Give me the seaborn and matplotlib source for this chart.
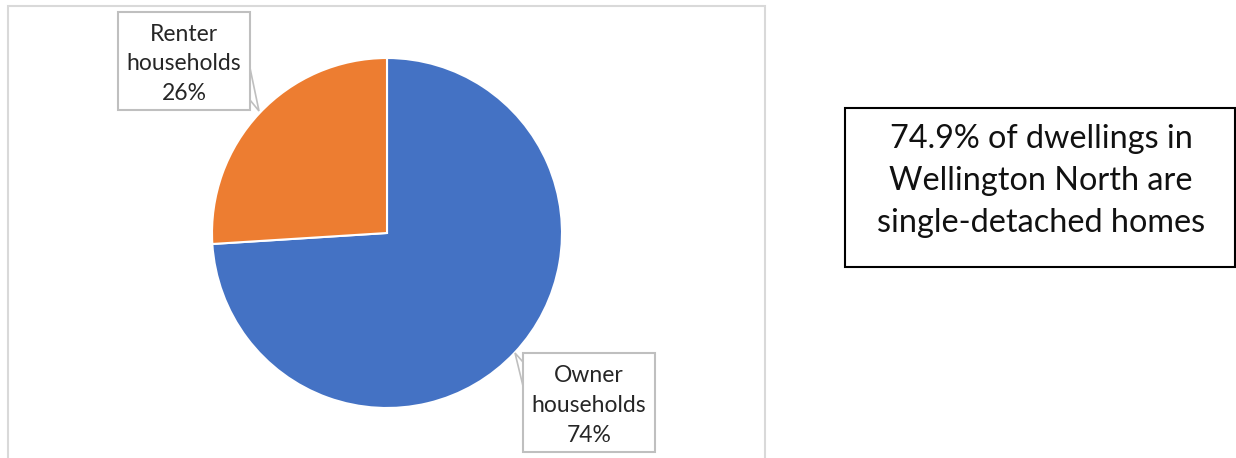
import matplotlib
matplotlib.use("Agg")
import matplotlib.pyplot as plt
from matplotlib.patches import Rectangle, Polygon
import seaborn as sns

# Household tenure shares
tenure_labels = ["Owner\nhouseholds", "Renter\nhouseholds"]
tenure_shares = [74, 26]
tenure_colors = ["#4472C4", "#ED7D31"]

callout_text = "74.9% of dwellings in\nWellington North are\nsingle-detached homes"

sns.set_theme(style="white")
plt.rcParams["font.family"] = ["Lato", "DejaVu Sans"]

W, H = 1236, 458
fig = plt.figure(figsize=(W / 100, H / 100), dpi=100)
ax = fig.add_axes([0, 0, 1, 1])


def Y(y):
    """Top-down pixel row to axis y."""
    return H - y


palette = sns.color_palette(tenure_colors)
ax.pie(tenure_shares, colors=palette, startangle=90, counterclock=False,
       center=(387, Y(233)), radius=175,
       wedgeprops=dict(edgecolor="white", linewidth=1.5))
ax.set_xlim(0, W)
ax.set_ylim(0, H)
ax.set_aspect("auto")
ax.axis("off")

# chart area frame (open at the bottom)
frame_c = "#D9D9D9"
ax.plot([7.5, 7.5, 765, 765], [Y(458), Y(5.5), Y(5.5), Y(458)],
        color=frame_c, lw=1.5, solid_joinstyle="miter")

# data callouts
box_c = "#BFBFBF"
callouts = [
    # (label index, box x0, y0, x1, y1, pointer polygon)
    (1, 118, 12, 250, 110, [(250, 68), (259, 111), (250, 100)]),
    (0, 523, 353, 655, 452, [(523, 386), (515, 353), (523, 362)]),
]
for idx, x0, y0, x1, y1, ptr in callouts:
    ax.add_patch(Polygon([(px, Y(py)) for px, py in ptr], closed=False,
                         facecolor="white", edgecolor=box_c, lw=1.2, zorder=3))
    ax.add_patch(Rectangle((x0, Y(y1)), x1 - x0, y1 - y0, facecolor="white",
                           edgecolor=box_c, lw=1.5, zorder=4))
    ax.text((x0 + x1) / 2, Y((y0 + y1) / 2 + 3),
            f"{tenure_labels[idx]}\n{tenure_shares[idx]}%",
            ha="center", va="center", fontsize=16.5, color="#262626",
            linespacing=1.5, zorder=5)

# side note box
ax.add_patch(Rectangle((845, Y(267)), 1235 - 845, 267 - 108, facecolor="white",
                       edgecolor="black", lw=1.5, zorder=4))
ax.text(1041, Y(181), callout_text, ha="center", va="center",
        fontsize=23.3, color="#111111", linespacing=1.48, zorder=5)

fig.savefig("out.png", dpi=100)
